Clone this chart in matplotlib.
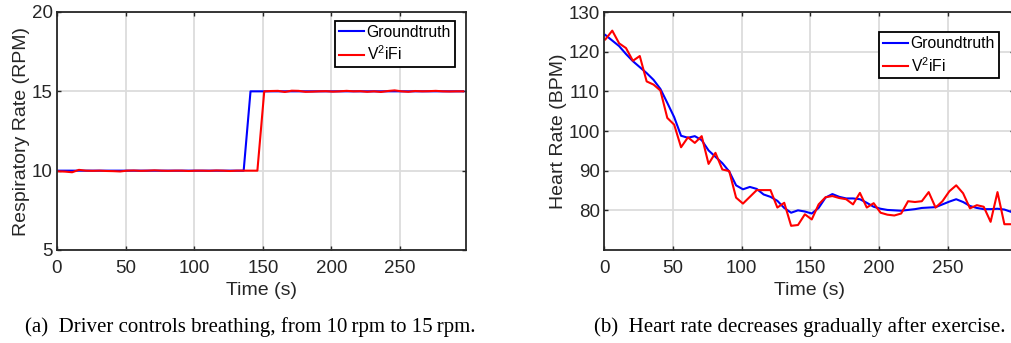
import matplotlib
matplotlib.use('Agg')
import matplotlib.pyplot as plt
import numpy as np

plt.rcParams['font.family'] = ['Liberation Sans', 'DejaVu Sans']
plt.rcParams['mathtext.fontset'] = 'custom'
plt.rcParams['mathtext.rm'] = 'Liberation Sans'
plt.rcParams['mathtext.it'] = 'Liberation Sans:italic'

# Time stamps (s), one estimate every 5 s
time_s = np.arange(1, 300, 5)

# (a) respiratory rate (RPM)
resp_truth = [10.0] * 28 + [15.0] * 32
resp_v2ifi = [9.96, 9.94, 9.90, 10.05, 10.0, 9.99, 10.0, 9.98, 9.97, 9.95,
              10.0, 10.01, 9.99, 10.0, 10.02, 10.0, 9.99, 10.0, 10.0, 9.98,
              10.0, 10.0, 9.99, 10.01, 10.0, 9.98, 10.0, 10.0, 10.0, 10.0,
              15.0, 15.02, 15.03, 14.96, 15.04, 15.03, 14.97, 14.98, 15.0, 15.01,
              14.98, 15.0, 15.03, 15.0, 15.01, 14.97, 15.0, 14.96, 15.02, 15.06,
              15.0, 14.97, 15.02, 15.0, 15.01, 15.03, 15.0, 14.99, 15.0, 15.0]

# (b) heart rate (BPM)
hr_truth = [124.2, 122.8, 121.4, 119.4, 117.6, 116.1, 114.6, 112.9, 110.6, 107.1,
            103.5, 98.8, 98.3, 98.7, 97.7, 95.1, 93.5, 91.9, 89.8, 86.3,
            85.3, 85.9, 85.4, 84.0, 83.4, 82.4, 80.6, 79.4, 80.0, 79.7,
            79.2, 80.6, 83.2, 84.1, 83.4, 83.0, 83.0, 82.8, 81.9, 80.9,
            80.4, 80.1, 80.0, 79.9, 80.1, 80.3, 80.6, 80.7, 80.8, 81.5,
            82.2, 82.8, 82.1, 81.1, 80.6, 80.3, 80.3, 80.4, 80.2, 79.6]
hr_v2ifi = [123.1, 125.3, 122.1, 120.9, 117.7, 118.9, 112.5, 111.7, 110.2, 103.3,
            101.6, 95.9, 98.4, 97.0, 98.7, 91.7, 94.5, 90.3, 89.9, 83.2,
            81.7, 83.4, 85.1, 85.1, 85.1, 80.7, 81.9, 76.1, 76.3, 79.0,
            77.7, 81.5, 83.3, 83.6, 83.1, 82.8, 81.5, 84.4, 80.7, 81.8,
            79.4, 78.9, 78.7, 79.2, 82.3, 82.1, 82.3, 84.6, 80.7, 82.3,
            84.8, 86.3, 84.3, 80.5, 81.3, 80.9, 77.1, 84.6, 76.5, 76.5]

xticks = [0, 50, 100, 150, 200, 250]

fig = plt.figure(figsize=(10.11, 3.43), dpi=100)
ax1 = fig.add_axes([57 / 1011, 93 / 343, 409 / 1011, 238 / 343])
ax2 = fig.add_axes([604 / 1011, 93 / 343, 410 / 1011, 238 / 343])

dark = '#262626'

def style(ax, yticks, ylim, ylabel):
    ax.set_xlim(0, 298)
    ax.set_ylim(*ylim)
    ax.set_xticks(xticks)
    ax.set_yticks(yticks)
    ax.grid(True, color='#dcdcdc', linewidth=1.3)
    ax.set_axisbelow(True)
    ax.tick_params(direction='in', length=3, width=1.0, top=True, right=True,
                   labelsize=13.5, colors=dark)
    ax.tick_params(axis='x', pad=7.5)
    ax.tick_params(axis='y', pad=3)
    for s in ax.spines.values():
        s.set_color(dark)
        s.set_linewidth(1.3)
    ax.set_xlabel('Time (s)', fontsize=14, color=dark, labelpad=3)
    ax.set_ylabel(ylabel, fontsize=14, color=dark, labelpad=1)

ax1.plot(time_s, resp_truth, color='#0000ff', linewidth=1.5, label='Groundtruth')
ax1.plot(time_s, resp_v2ifi, color='#ff0000', linewidth=1.5, label='V$^2$iFi')
style(ax1, [5, 10, 15, 20], (5, 20), 'Respiratory Rate (RPM)')

ax2.plot(time_s, hr_truth, color='#0000ff', linewidth=1.5, label='Groundtruth')
ax2.plot(time_s, hr_v2ifi, color='#ff0000', linewidth=1.5, label='V$^2$iFi')
style(ax2, [80, 90, 100, 110, 120, 130], (70, 130), 'Heart Rate (BPM)')

for ax, anchor in [(ax1, (0.973, 0.962)), (ax2, (0.963, 0.915))]:
    leg = ax.legend(loc='upper right', bbox_to_anchor=anchor, fontsize=11.3,
                    fancybox=False, framealpha=1, edgecolor='black',
                    handlelength=1.6, handletextpad=0.15, borderpad=0.25,
                    labelspacing=0.3, borderaxespad=0)
    leg.get_frame().set_linewidth(1.3)

cap_font = ['Liberation Serif', 'DejaVu Serif']
fig.text(250 / 1011, 1 - 327 / 343, '(a)  Driver controls breathing, from 10\u2009rpm to 15\u2009rpm.',
         family=cap_font, fontsize=15, ha='center', va='center')
fig.text(800 / 1011, 1 - 327 / 343, '(b)  Heart rate decreases gradually after exercise.',
         family=cap_font, fontsize=15, ha='center', va='center')

fig.savefig('out.png', dpi=100)
